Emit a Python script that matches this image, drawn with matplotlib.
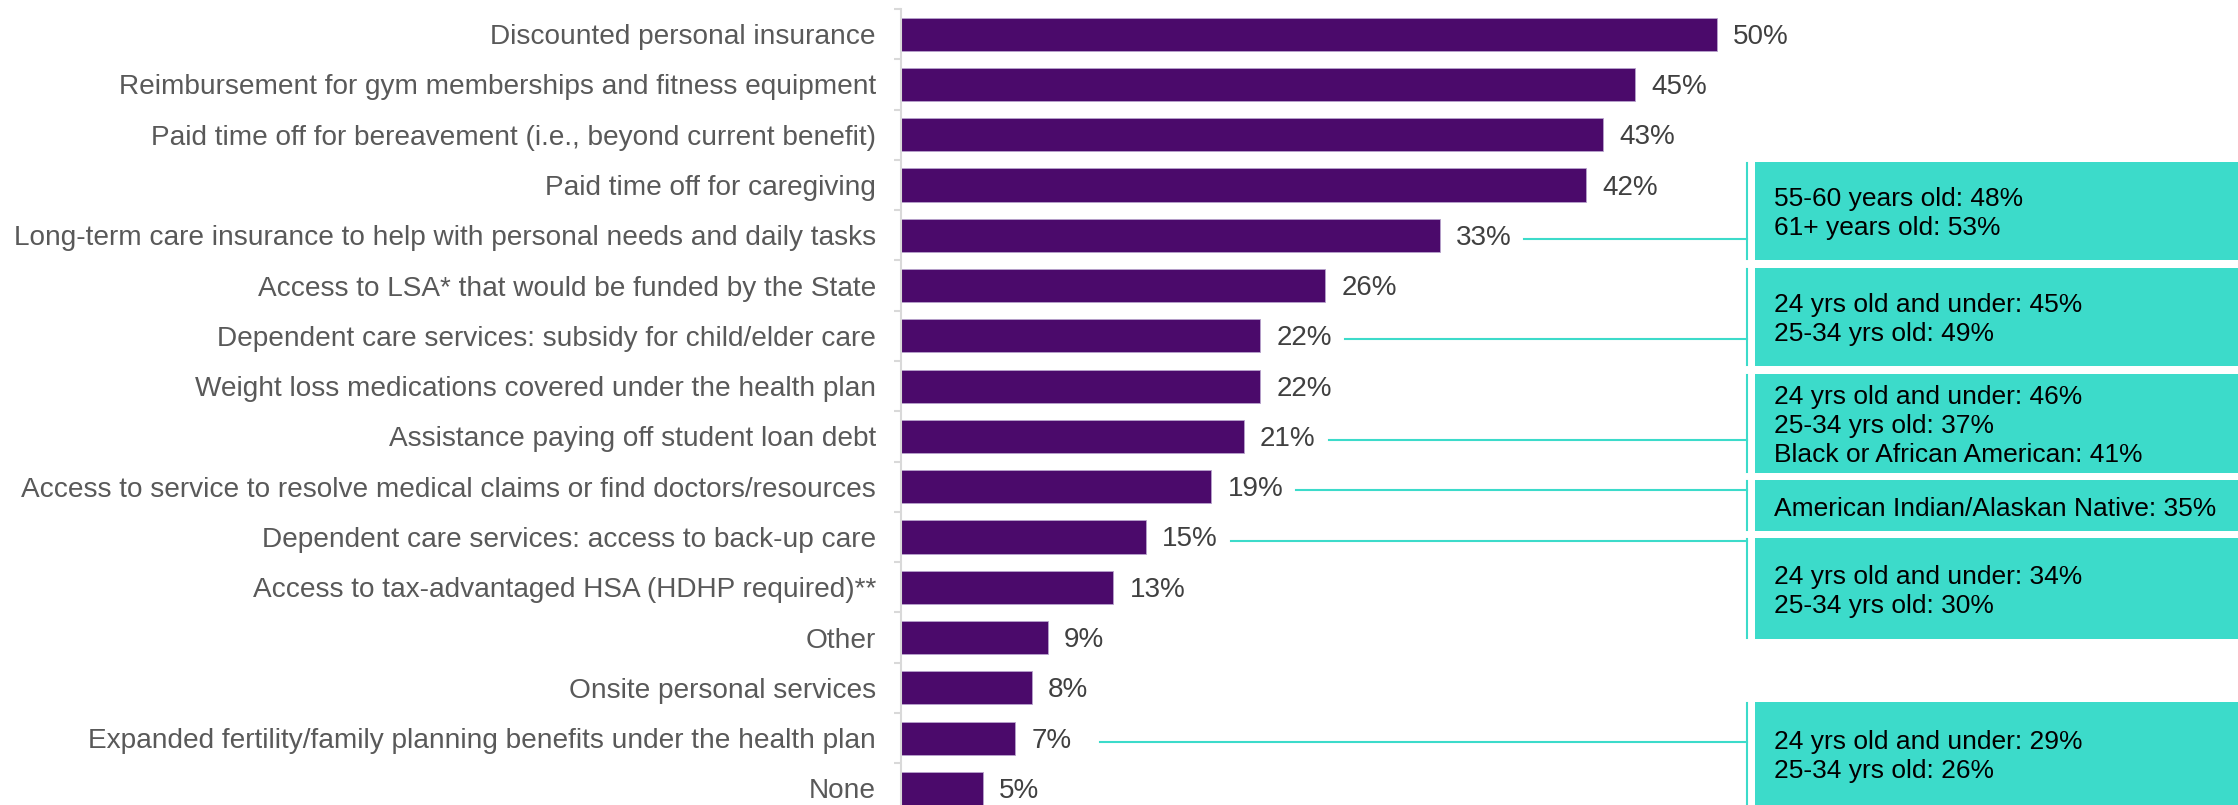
import matplotlib.pyplot as plt
from matplotlib.patches import Rectangle

plt.rcParams["font.family"] = ["Liberation Sans", "DejaVu Sans"]

categories = [
    "Discounted personal insurance",
    "Reimbursement for gym memberships and fitness equipment",
    "Paid time off for bereavement (i.e., beyond current benefit)",
    "Paid time off for caregiving",
    "Long-term care insurance to help with personal needs and daily tasks",
    "Access to LSA* that would be funded by the State",
    "Dependent care services: subsidy for child/elder care",
    "Weight loss medications covered under the health plan",
    "Assistance paying off student loan debt",
    "Access to service to resolve medical claims or find doctors/resources",
    "Dependent care services: access to back-up care",
    "Access to tax-advantaged HSA (HDHP required)**",
    "Other",
    "Onsite personal services",
    "Expanded fertility/family planning benefits under the health plan",
    "None",
]
values = [50, 45, 43, 42, 33, 26, 22, 22, 21, 19, 15, 13, 9, 8, 7, 5]

# callouts: which bar they point at and what they say
callout_rows = [4, 6, 8, 9, 10, 14]
callout_texts = [
    "55-60 years old: 48%\n61+ years old: 53%",
    "24 yrs old and under: 45%\n25-34 yrs old: 49%",
    "24 yrs old and under: 46%\n25-34 yrs old: 37%\nBlack or African American: 41%",
    "American Indian/Alaskan Native: 35%",
    "24 yrs old and under: 34%\n25-34 yrs old: 30%",
    "24 yrs old and under: 29%\n25-34 yrs old: 26%",
]
# vertical extent of each callout box, in bar-row units
callout_spans = [(2.54, 4.49), (4.65, 6.59), (6.75, 8.72), (8.86, 9.89), (10.03, 12.02), (13.29, 15.5)]

BAR = "#4B0A6B"
TEAL = "#3CDBCA"
GRID = "#D9D9D9"

fig = plt.figure(figsize=(22.38, 8.05), dpi=100)
ax = fig.add_axes([901 / 2238, 0, 1 - 901 / 2238, 1 - 9 / 805])

y = list(range(len(categories)))
ax.barh(y, values, height=0.66, color=BAR, edgecolor="#B8A3CC", linewidth=0.6)
ax.set_xlim(0, 1337 / 16.32)
ax.set_ylim(len(categories) - 1 + 0.33, -0.5)

for i, v in enumerate(values):
    ax.text(v + 1.0, i + 0.05, f"{v}%", va="center", ha="left", fontsize=20, color="#404040")

ax.set_yticks(y)
ax.set_yticklabels(categories, fontsize=20.2, color="#595959")
ax.set_yticks([i - 0.5 for i in range(len(categories))], minor=True)
ax.tick_params(axis="y", which="major", length=0, pad=18)
ax.tick_params(axis="y", which="minor", length=5, width=1.5, color=GRID)
ax.set_xticks([])
for side in ("top", "right", "bottom"):
    ax.spines[side].set_visible(False)
ax.spines["left"].set_color(GRID)
ax.spines["left"].set_linewidth(1.5)

bracket_x = 51.84
box_x0 = 52.33
for row, text, (top, bottom) in zip(callout_rows, callout_texts, callout_spans):
    ax.plot([values[row] + 5.2, bracket_x], [row + 0.07, row + 0.07], color=TEAL, lw=1.5, clip_on=False)
    ax.plot([bracket_x, bracket_x], [top + 0.02, bottom - 0.02], color=TEAL, lw=1.5, clip_on=False)
    ax.add_patch(Rectangle((box_x0, top), 85 - box_x0, bottom - top, facecolor=TEAL,
                           edgecolor="none", clip_on=False))
    ax.text(box_x0 + 1.15, (top + min(bottom, 15.33)) / 2 + 0.06, text, ha="left", va="center",
            fontsize=19, color="black", linespacing=1.27)

fig.savefig("out.png", dpi=100)
